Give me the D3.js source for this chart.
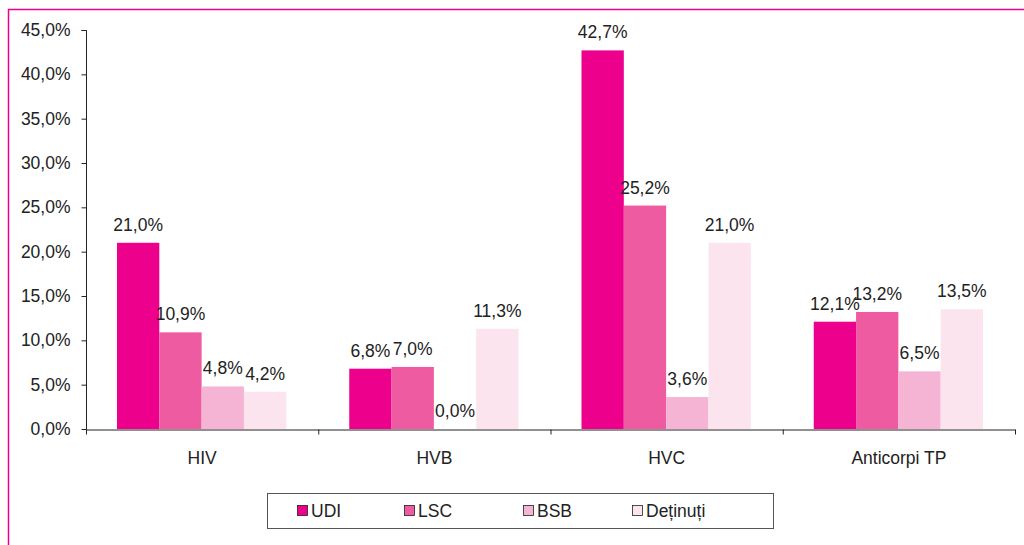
<!DOCTYPE html>
<html>
<head>
<meta charset="utf-8">
<script src="https://cdn.jsdelivr.net/npm/d3@7"></script>
<style>
  body { margin: 0; background: #fff; }
  svg { display: block; font-family: "Liberation Sans", Arial, sans-serif; }
</style>
</head>
<body>
<div id="container"></div>
<script>
const categories = ["HIV", "HVB", "HVC", "Anticorpi TP"];
const seriesNames = ["UDI", "LSC", "BSB", "Deținuți"];
const udi = [21.0, 6.8, 42.7, 12.1];
const lsc = [10.9, 7.0, 25.2, 13.2];
const bsb = [4.8, 0.0, 3.6, 6.5];
const detinuti = [4.2, 11.3, 21.0, 13.5];
const yTicks = [0, 5, 10, 15, 20, 25, 30, 35, 40, 45];
const colors = ["#ec008c", "#ef5ba1", "#f5b4d3", "#fce4ef"];

const WIDTH = 1024;
const HEIGHT = 545;
const PLOT_L = 86, PLOT_R = 1015, PLOT_T = 30, PLOT_B = 429;
const FONT = "17.5px";

const seriesValues = [udi, lsc, bsb, detinuti];
const data = categories.map((c, i) => ({
  cat: c,
  values: seriesNames.map((s, j) => ({ key: s, value: seriesValues[j][i] }))
}));

const fmt = v => d3.format(".1f")(v).replace(".", ",") + "%";

const svg = d3.select("#container")
  .append("svg")
  .attr("width", WIDTH)
  .attr("height", HEIGHT);

// outer pink frame
svg.append("rect")
  .attr("x", 8.5).attr("y", 9.5)
  .attr("width", 1030).attr("height", 560)
  .attr("fill", "none")
  .attr("stroke", "#ec008c")
  .attr("stroke-width", 1.5);

const xScale = d3.scaleBand()
  .domain(categories)
  .range([PLOT_L, PLOT_R])
  .paddingInner(0)
  .paddingOuter(0);

const xInner = d3.scaleBand()
  .domain(seriesNames)
  .range([31, xScale.bandwidth() - 32]);

const yScale = d3.scaleLinear()
  .domain([0, 45])
  .range([PLOT_B, PLOT_T]);

// y axis
const yAxis = d3.axisLeft(yScale)
  .tickValues(yTicks)
  .tickSize(5)
  .tickPadding(11)
  .tickFormat(fmt);

const yG = svg.append("g")
  .attr("transform", `translate(${PLOT_L + 0.5},0)`)
  .call(yAxis);
yG.select(".domain").attr("stroke", "#222").attr("d", `M-5,${PLOT_T + 0.5}H0V${PLOT_B + 0.5}`);
yG.selectAll(".tick line").attr("stroke", "#222");
yG.selectAll(".tick text")
  .attr("fill", "#222")
  .style("font-size", FONT);

// x axis
const xAxis = d3.axisBottom(xScale)
  .tickSize(0)
  .tickPadding(22)
  .tickSizeOuter(0);

const xG = svg.append("g")
  .attr("transform", `translate(0,${PLOT_B + 0.5})`)
  .call(xAxis);
xG.select(".domain").attr("stroke", "#222");
xG.selectAll(".tick text")
  .attr("fill", "#222")
  .style("font-size", FONT);

// category separator ticks
xG.selectAll(".sep")
  .data(d3.range(categories.length + 1))
  .enter()
  .append("line")
  .attr("class", "sep")
  .attr("x1", i => PLOT_L + 0.5 + i * xScale.bandwidth())
  .attr("x2", i => PLOT_L + 0.5 + i * xScale.bandwidth())
  .attr("y1", 0)
  .attr("y2", 5)
  .attr("stroke", "#222");

// bars
const groups = svg.selectAll(".group")
  .data(data)
  .enter()
  .append("g")
  .attr("class", "group")
  .attr("transform", d => `translate(${xScale(d.cat)},0)`);

groups.selectAll("rect")
  .data(d => d.values)
  .enter()
  .append("rect")
  .attr("x", d => xInner(d.key))
  .attr("width", xInner.bandwidth())
  .attr("y", d => yScale(d.value))
  .attr("height", d => PLOT_B - yScale(d.value))
  .attr("fill", (d, i) => colors[i]);

groups.selectAll(".lbl")
  .data(d => d.values)
  .enter()
  .append("text")
  .attr("class", "lbl")
  .attr("x", d => xInner(d.key) + xInner.bandwidth() / 2)
  .attr("y", d => yScale(d.value) - 12)
  .attr("text-anchor", "middle")
  .attr("fill", "#222")
  .style("font-size", FONT)
  .text(d => fmt(d.value));

// legend
const legend = svg.append("g").attr("class", "legend");
legend.append("rect")
  .attr("x", 267.5).attr("y", 493.5)
  .attr("width", 506).attr("height", 35)
  .attr("fill", "#fff")
  .attr("stroke", "#555");

const legendX = [297, 404, 523, 632];
seriesNames.forEach((s, i) => {
  legend.append("rect")
    .attr("x", legendX[i] + 0.5).attr("y", 505.5)
    .attr("width", 10).attr("height", 10)
    .attr("fill", colors[i])
    .attr("stroke", "#222")
    .attr("stroke-width", 0.8);
  legend.append("text")
    .attr("x", legendX[i] + 14)
    .attr("y", 517)
    .attr("fill", "#222")
    .style("font-size", FONT)
    .text(s);
});
</script>
</body>
</html>
